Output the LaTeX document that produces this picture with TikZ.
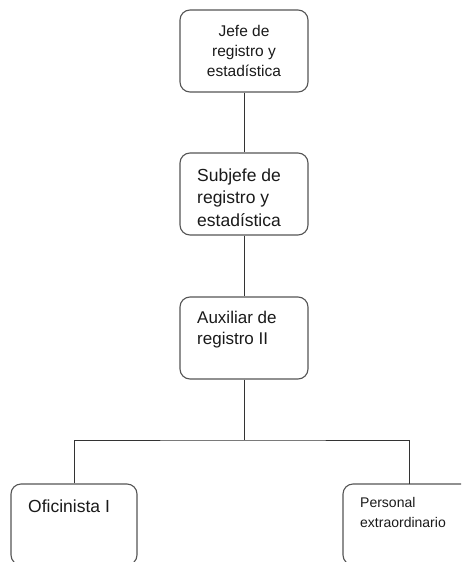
\documentclass[tikz,border=0pt]{standalone}
\usepackage{fontspec}
\setmainfont{Liberation Sans}
\definecolor{boxline}{HTML}{555555}
\definecolor{conn}{HTML}{333333}
\definecolor{txt}{HTML}{1A1A1A}
\begin{document}
\begin{tikzpicture}[x=1pt,y=-1pt,
  box/.style={draw=boxline, line width=1.1pt, rounded corners=10pt, minimum width=128pt, minimum height=82pt, inner sep=0pt, text=txt},
  lbl/.style={anchor=west, align=left, inner sep=0pt, text=txt},
  link/.style={draw=conn, line width=1pt}]
\useasboundingbox (0,0) rectangle (461,562);
\clip (0,0) rectangle (461,562);
\fill[white] (0,0) rectangle (461,562);
\node[box, align=center, font=\fontsize{15.5}{20}\selectfont] (b1) at (244,51) {Jefe de\\registro y\\estadística};
\node[box] (b2) at (244,194) {};
\node[lbl, font=\fontsize{17.5}{22.5}\selectfont] (t2) at (197,197.5) {Subjefe de\\registro y\\estadística};
\node[box] (b3) at (244,338) {};
\node[lbl, font=\fontsize{17}{21.5}\selectfont] (t3) at (197,329.5) {Auxiliar de\\registro II};
\node[box, minimum width=126pt, minimum height=81pt] (b4) at (74,524.5) {};
\node[lbl, font=\fontsize{17.5}{21}\selectfont] (t4) at (28,506) {Oficinista I};
\node[box, minimum width=128pt, minimum height=81pt] (b5) at (407,524.5) {};
\node[lbl, font=\fontsize{14}{20}\selectfont] (t5) at (360,512) {Personal\\extraordinario};
\coordinate (j) at (244,440);
\coordinate (c5) at (409,484);
\draw[link] (b1.south) -- (b2.north);
\draw[link] (b2.south) -- (b3.north);
\draw[link] (b3.south) -- (j);
\draw[link] (b4.north) |- (j) -| (c5);
\end{tikzpicture}
\end{document}
